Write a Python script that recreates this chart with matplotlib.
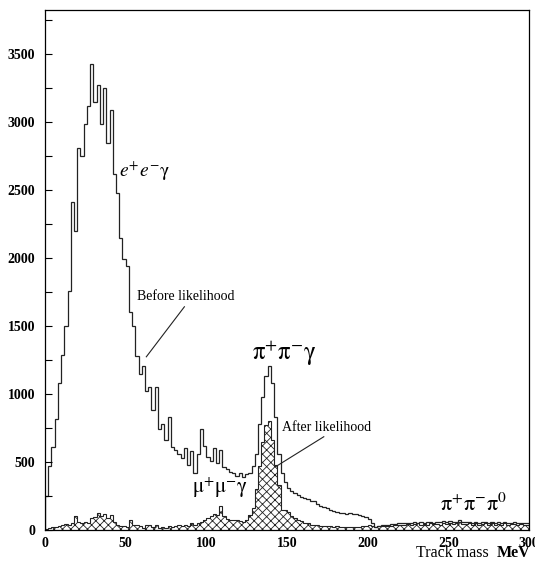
import numpy as np
import matplotlib
matplotlib.use("Agg")
import matplotlib.pyplot as plt
from matplotlib.ticker import MultipleLocator

plt.rcParams['font.family'] = ['Liberation Serif', 'DejaVu Serif']
plt.rcParams['mathtext.fontset'] = 'stix'
plt.rcParams['hatch.linewidth'] = 0.6

# histogram, 2 MeV bins from 0 to 300 MeV
bin_edges = np.arange(0, 302, 2)

before = [
    250, 470, 610, 820, 1080, 1290, 1500, 1760, 2410, 2200,      # 0-20
    2810, 2750, 2990, 3120, 3430, 3150, 3270, 2990, 3250, 2850,  # 20-40
    3090, 2620, 2480, 2150, 1990, 1940, 1600, 1500, 1280, 1150,  # 40-60
    1210, 1020, 1050, 880, 1050, 740, 780, 660, 830, 610,        # 60-80
    590, 560, 530, 600, 480, 580, 420, 560, 740, 620,            # 80-100
    540, 510, 600, 490, 590, 460, 450, 430, 420, 400,            # 100-120
    420, 390, 410, 420, 470, 560, 780, 980, 1130, 1210,          # 120-140
    1080, 830, 560, 420, 350, 310, 290, 270, 260, 245,           # 140-160
    235, 225, 210, 215, 190, 180, 172, 160, 150, 140,            # 160-180
    135, 128, 125, 120, 122, 118, 115, 110, 100, 95,             # 180-200
    80, 50, 25, 30, 35, 38, 40, 42, 45, 50,                      # 200-220
    48, 52, 55, 50, 58, 55, 60, 52, 58, 62,                      # 220-240
    55, 60, 58, 63, 60, 65, 58, 62, 70, 60,                      # 240-260
    58, 62, 55, 60, 52, 58, 62, 55, 60, 52,                      # 260-280
    58, 55, 60, 50, 55, 58, 52, 55, 50, 52,                      # 280-300
]

after = [
    10, 18, 22, 25, 30, 40, 45, 38, 50, 105,                     # 0-20
    60, 50, 62, 55, 85, 95, 125, 100, 115, 90,                   # 20-40
    110, 60, 35, 30, 28, 25, 75, 40, 35, 32,                     # 40-60
    15, 35, 40, 20, 38, 15, 25, 18, 30, 22,                      # 60-80
    28, 35, 30, 38, 32, 50, 40, 55, 62, 75,                      # 80-100
    90, 100, 120, 110, 175, 100, 80, 75, 70, 75,                 # 100-120
    65, 60, 75, 110, 160, 300, 470, 650, 770, 800,               # 120-140
    660, 480, 330, 150, 145, 130, 100, 85, 74, 65,               # 140-160
    55, 50, 40, 38, 35, 32, 30, 28, 30, 25,                      # 160-180
    28, 25, 22, 25, 20, 22, 25, 22, 28, 30,                      # 180-200
    35, 30, 25, 28, 30, 28, 32, 30, 38, 35,                      # 200-220
    40, 35, 45, 38, 42, 48, 40, 45, 38, 50,                      # 220-240
    42, 45, 40, 52, 45, 50, 42, 48, 60, 45,                      # 240-260
    42, 50, 40, 48, 38, 45, 52, 40, 48, 38,                      # 260-280
    45, 40, 50, 35, 42, 45, 38, 42, 35, 40,                      # 280-300
]

fig = plt.figure(figsize=(5.35, 5.62), dpi=100)
ax = fig.add_axes([45 / 535, 32 / 562, 484 / 535, 520 / 562])

ax.stairs(after, bin_edges, fill=True, facecolor='white', edgecolor='#222222',
          hatch='xxxx', linewidth=0)
ax.stairs(after, bin_edges, color='#222222', linewidth=0.8)
ax.stairs(before, bin_edges, color='#222222', linewidth=0.9)

ax.set_xlim(0, 300)
ax.set_ylim(0, 3825)
ax.xaxis.set_major_locator(MultipleLocator(50))
ax.yaxis.set_major_locator(MultipleLocator(500))
ax.yaxis.set_minor_locator(MultipleLocator(250))
ax.tick_params(axis='y', which='both', direction='in', length=5, width=0.8, pad=7)
ax.tick_params(axis='x', which='both', length=0, pad=5)
for lab in ax.get_xticklabels() + ax.get_yticklabels():
    lab.set_fontweight('bold')
    lab.set_fontsize(10)
for s in ax.spines.values():
    s.set_linewidth(0.9)

# labels on the plot
ax.text(46, 2596, r'$e^{+}e^{-}\mathrm{\gamma}$', fontsize=14, ha='left', va='baseline')
ax.text(128, 1250, r'$\mathrm{\pi}^{+}\mathrm{\pi}^{-}\mathrm{\gamma}$', fontsize=18,
        ha='left', va='baseline')
ax.text(91, 270, r'$\mathrm{\mu}^{+}\mathrm{\mu}^{-}\mathrm{\gamma}$', fontsize=15,
        ha='left', va='baseline')
ax.text(245, 140, r'$\mathrm{\pi}^{+}\mathrm{\pi}^{-}\mathrm{\pi}^{0}$', fontsize=16,
        ha='left', va='baseline')

ax.text(56.8, 1691, 'Before likelihood', fontsize=10, ha='left', va='baseline')
ax.plot([86.4, 62.8], [1642, 1274], color='#222222', linewidth=0.8)
ax.text(146.9, 728, 'After likelihood', fontsize=10, ha='left', va='baseline')
ax.plot([172.8, 143], [686, 466], color='#222222', linewidth=0.8)

ax.text(275, -202, 'Track mass', fontsize=11.5, ha='right', va='baseline', clip_on=False)
ax.text(300.6, -202, 'MeV', fontsize=11.5, fontweight='bold', ha='right', va='baseline',
        clip_on=False)

fig.savefig('out.png', dpi=100)
